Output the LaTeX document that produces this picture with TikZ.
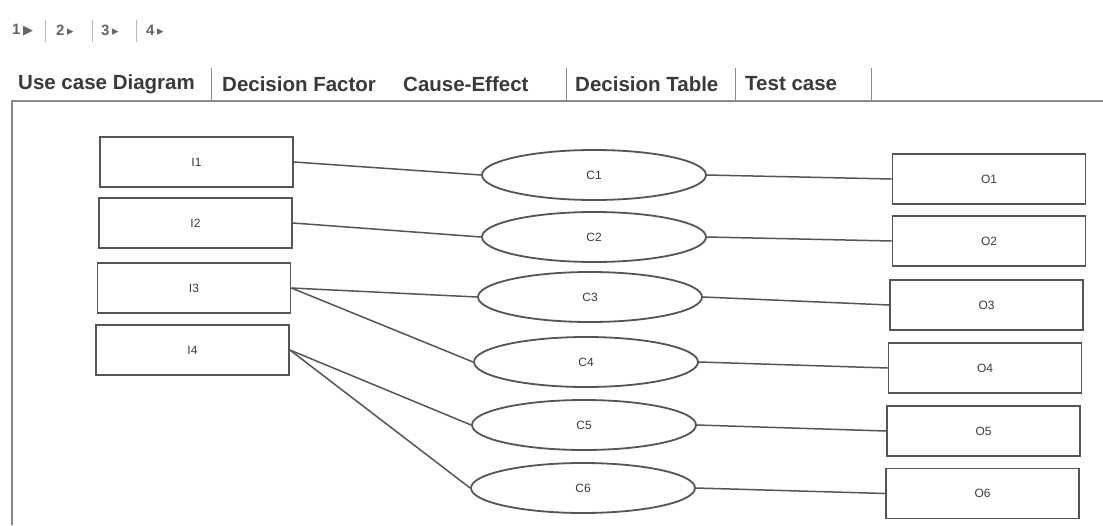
\documentclass[tikz,border=0pt]{standalone}
\usepackage{fontspec}
\setmainfont{Liberation Sans}
\newfontfamily\symfont{DejaVu Sans}
\usetikzlibrary{shapes.geometric}
\definecolor{linec}{HTML}{555555}
\definecolor{textc}{HTML}{3A3A3A}
\definecolor{framec}{HTML}{8A8A8A}
\definecolor{navc}{HTML}{666666}
\begin{document}
\begin{tikzpicture}[x=1pt,y=-1pt,
  ibox/.style={draw=linec, line width=1.8pt, rectangle, minimum width=193pt, minimum height=50pt, inner sep=0pt, text=textc, font=\fontsize{12}{12}\selectfont},
  cell/.style={draw=linec, line width=1.8pt, ellipse, minimum width=224pt, minimum height=50pt, inner sep=0pt, text=textc, font=\fontsize{12}{12}\selectfont},
  conn/.style={draw=linec, line width=1.5pt},
  tab/.style={anchor=west, inner sep=0pt, text=textc, font=\fontsize{20.5}{20.5}\selectfont\bfseries},
  tabsep/.style={draw=framec, line width=1pt},
  nav/.style={anchor=west, inner sep=0pt, text=navc, font=\fontsize{15}{15}\selectfont\bfseries},
  navsep/.style={draw=framec!60, line width=0.8pt}
]
\useasboundingbox (0,0) rectangle (1103,525);
\fill[white] (0,0) rectangle (1103,525);

% navigation
\node[nav] (n1) at (12,30) {1\,{\symfont\fontsize{13}{13}\selectfont ▶}};
\node[nav] (n2) at (56,30) {2\,{\symfont\fontsize{13}{13}\selectfont ▸}};
\node[nav] (n3) at (101,30) {3\,{\symfont\fontsize{13}{13}\selectfont ▸}};
\node[nav] (n4) at (146,30) {4\,{\symfont\fontsize{13}{13}\selectfont ▸}};
\draw[navsep] (45,20) -- (45,42);
\draw[navsep] (92,20) -- (92,42);
\draw[navsep] (136,20) -- (136,42);

% tabs
\node[tab] (t1) at (18,84) {Use case Diagram};
\node[tab] (t2) at (222,84) {Decision Factor};
\node[tab] (t3) at (403,84) {Cause-Effect};
\node[tab] (t4) at (575,84) {Decision Table};
\node[tab] (t5) at (745,84) {Test case};
\draw[tabsep] (211,68) -- (211,100);
\draw[tabsep] (566,68) -- (566,100);
\draw[tabsep] (735,68) -- (735,100);
\draw[tabsep] (871,68) -- (871,100);

% frame
\draw[draw=framec, line width=1.6pt] (1103,101) -- (12,101) -- (12,525);

% inputs
\node[ibox] (I1) at (196.5,162) {I1};
\node[ibox] (I2) at (195.5,223) {I2};
\node[ibox] (I3) at (194,288) {I3};
\node[ibox] (I4) at (192.5,350) {I4};

% causes
\node[cell] (C1) at (594,175) {C1};
\node[cell] (C2) at (594,237) {C2};
\node[cell] (C3) at (590,297) {C3};
\node[cell] (C4) at (586,362) {C4};
\node[cell] (C5) at (584,425) {C5};
\node[cell] (C6) at (583,488) {C6};

% outputs
\node[ibox] (O1) at (989,179) {O1};
\node[ibox] (O2) at (989,241) {O2};
\node[ibox] (O3) at (986.5,305) {O3};
\node[ibox] (O4) at (985,368) {O4};
\node[ibox] (O5) at (983.5,431) {O5};
\node[ibox] (O6) at (982.5,493.5) {O6};

% connectors
\draw[conn] (I1.east) -- (C1.west);
\draw[conn] (I2.east) -- (C2.west);
\draw[conn] (I3.east) -- (C3.west);
\draw[conn] (I3.east) -- (C4.west);
\draw[conn] (I4.east) -- (C5.west);
\draw[conn] (I4.east) -- (C6.west);
\draw[conn] (C1.east) -- (O1.west);
\draw[conn] (C2.east) -- (O2.west);
\draw[conn] (C3.east) -- (O3.west);
\draw[conn] (C4.east) -- (O4.west);
\draw[conn] (C5.east) -- (O5.west);
\draw[conn] (C6.east) -- (O6.west);
\end{tikzpicture}
\end{document}
